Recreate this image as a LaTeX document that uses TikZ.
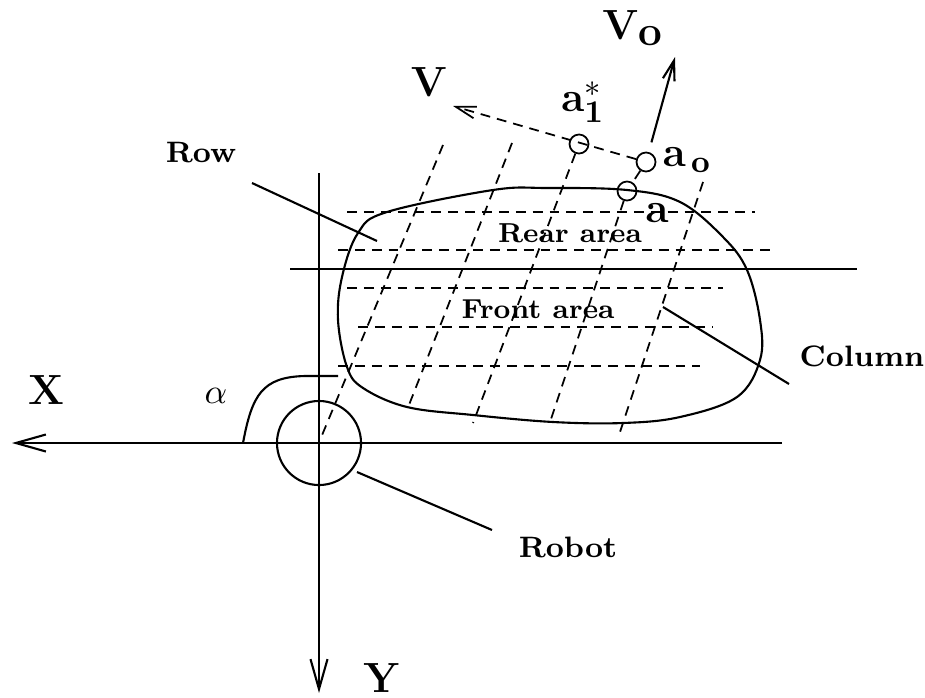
\documentclass[tikz,border=0pt]{standalone}
\usetikzlibrary{arrows.meta}
\begin{document}
\begin{tikzpicture}[x=0.01cm, y=-0.01cm, line width=0.6pt,
  txt/.style={font=\fontsize{8.4}{10}\selectfont\bfseries},
  area/.style={font=\fontsize{7.8}{9}\selectfont\bfseries},
  bigtxt/.style={font=\fontsize{12.5}{14}\selectfont},
  gridline/.style={dash pattern=on 2.8pt off 2pt, line width=0.5pt},
  ptcirc/.style={draw, circle, minimum size=0.19cm, inner sep=0pt, line width=0.5pt},
  axis/.style={-{Straight Barb[length=0.3cm, width=0.17cm]}},
  vel/.style={-{Straight Barb[length=0.2cm, width=0.12cm]}}]
\useasboundingbox (0,0) rectangle (925,697);

% Axes
\coordinate (o) at (319,443);
\coordinate (xend) at (782,443);
\coordinate (xtip) at (12,443);
\coordinate (ytop) at (319,173);
\coordinate (ytip) at (319,693);
\draw[axis] (xend) -- (xtip);
\draw[axis] (ytop) -- (ytip);
\node[bigtxt] (xlab) at (46,390) {$\mathbf{X}$};
\node[bigtxt] (ylab) at (382,678) {$\mathbf{Y}$};

% Robot
\node[draw, circle, minimum size=0.84cm, inner sep=0pt] (bot) at (o) {};
\node[txt] (robot) at (568,547) {Robot};
\coordinate (robota) at (357,472);
\coordinate (robotb) at (492,530);
\draw (robota) -- (robotb);

% Angle
\draw (243,443) .. controls (252,395) and (262,377) .. (305,376) -- (338,376);
\node (alpha) at (216,396) {$\alpha$};

% Rows
\foreach \y/\a/\b in {212/347/755, 250/338/770, 288/347/723, 327/358/713, 366/338/700}
  \draw[gridline] (\a,\y) -- (\b,\y);
\draw (290,269) -- (857,269);

% Points
\node[ptcirc] (a1) at (579,144) {};
\node[ptcirc] (ao) at (646,162) {};
\node[ptcirc] (a) at (627,191) {};

% Columns
\draw[gridline] (443,145) -- (320,440);
\draw[gridline] (512,143) -- (407,410);
\draw[gridline] (a1) -- (473,423);
\draw[gridline] (ao) -- (a);
\draw[gridline] (a) -- (550,422);
\draw[gridline] (703,182) -- (618,438);

% Area
\draw plot[smooth cycle, tension=0.6] coordinates {(387,212) (493,190) (547,188) (627,190)
  (680,202) (723,237) (747,270) (760,320) (760,360) (737,397) (680,417) (623,423)
  (553,422) (473,415) (407,407) (363,388) (347,367) (338,320) (342,277) (358,233)};
\node[area] (rear) at (570,233) {Rear area};
\node[area] (front) at (538,309) {Front area};

% Velocities
\coordinate (vtip) at (453,106);
\coordinate (votip) at (675,57);
\draw[gridline, vel] (ao) -- (vtip);
\draw[vel, shorten <=0.1cm] (ao) -- (votip);
\node[bigtxt] (vlab) at (429,82) {$\mathbf{V}$};
\node[bigtxt] (volab) at (633,28) {$\mathbf{V}_{\textstyle\mathbf{o}}$};
\node[bigtxt] (a1lab) at (583,102) {$\mathbf{a}^{*}_{\mathbf{1}}$};
\node[bigtxt] (aolab) at (687,160) {$\mathbf{a}_{\,\mathbf{o}}$};
\node[bigtxt] (alab) at (657,213) {$\mathbf{a}$};

% Leaders
\node[txt] (row) at (201,153) {Row};
\coordinate (rowa) at (252,183);
\coordinate (rowb) at (377,241);
\draw (rowa) -- (rowb);
\node[txt] (column) at (862,356) {Column};
\coordinate (cola) at (663,307);
\coordinate (colb) at (789,384);
\draw (cola) -- (colb);
\end{tikzpicture}
\end{document}
